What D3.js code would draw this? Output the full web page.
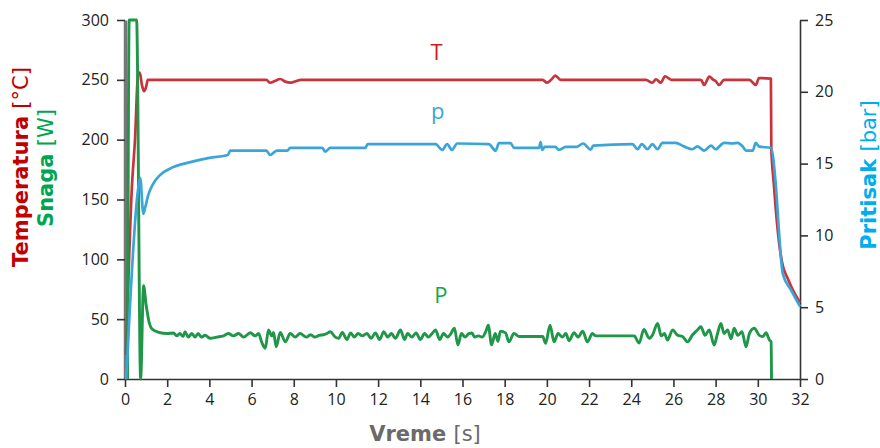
<!DOCTYPE html>
<html>
<head>
<meta charset="utf-8">
<script src="https://cdn.jsdelivr.net/npm/d3@7"></script>
<style>
  html, body { margin: 0; padding: 0; background: #fff; }
  svg { display: block; }
</style>
</head>
<body>
<div id="chart"></div>
<script>
// ---- data ----
// time in s, temperature in °C (left axis)
const temperature = [
  [0.05, 20], [0.32, 158], [0.48, 202], [0.62, 255], [0.7, 256], [0.8, 246], [0.9, 240.5],
  [1.0, 244], [1.08, 250], [6.7, 250], [6.88, 247.6], [7.1, 249], [7.36, 250.7], [7.6, 248.5],
  [7.83, 247.6], [8.0, 248.3], [8.35, 250], [19.8, 250], [20.0, 247.6], [20.2, 250], [20.4, 253.5],
  [20.65, 250], [24.7, 250], [25.0, 247.6], [25.17, 250.5], [25.4, 247.6], [25.6, 253], [25.9, 250],
  [27.3, 250], [27.46, 245.7], [27.7, 252.6], [27.9, 250], [28.0, 249], [28.16, 245.7], [28.4, 250],
  [29.6, 250], [29.9, 245.7], [30.06, 251.5], [30.62, 251], [30.64, 193], [30.75, 165], [30.86, 140],
  [31.02, 112], [31.18, 95], [31.42, 84], [31.7, 73], [32.0, 64]
]

// time in s, pressure in bar (right axis)
const pressure = [
  [0.06, 0], [0.62, 13.2], [0.72, 14.0], [0.87, 11.5], [0.95, 11.9], [1.1, 12.8], [1.3, 13.5],
  [1.66, 14.2], [2.2, 14.7], [3.1, 15.1], [4.0, 15.4], [4.88, 15.6], [4.99, 15.9], [6.7, 15.9],
  [6.88, 15.6], [7.2, 15.9], [7.7, 15.9], [7.83, 16.1], [9.35, 16.1], [9.5, 15.83], [9.73, 16.1],
  [11.4, 16.1], [11.5, 16.36], [14.72, 16.36], [15.04, 15.95], [15.27, 16.36], [15.5, 15.95],
  [15.75, 16.4], [17.25, 16.36], [17.57, 15.9], [17.73, 16.43], [18.28, 16.43], [18.44, 16.09],
  [19.63, 16.09], [19.7, 16.5], [19.78, 15.95], [19.9, 16.16], [20.4, 16.16], [20.57, 15.95],
  [20.9, 16.16], [21.4, 16.16], [21.72, 16.4], [22.08, 15.98], [22.2, 16.25], [24.06, 16.36],
  [24.3, 16.0], [24.5, 16.36], [24.77, 16.0], [25.0, 16.36], [25.25, 16.0], [25.48, 16.45],
  [26.1, 16.45], [26.5, 16.2], [26.9, 16.0], [27.14, 16.2], [27.46, 15.9], [27.78, 16.25],
  [28.0, 16.0], [28.4, 16.45], [28.8, 16.4], [29.04, 16.45], [29.28, 16.2], [29.44, 15.9],
  [29.76, 15.9], [29.9, 16.45], [30.07, 16.18], [30.62, 16.1], [30.86, 13.4], [31.02, 9.9],
  [31.18, 7.36], [31.57, 6.2], [32.0, 5.05]
]

// time in s, power in W (left axis)
const power = [
  [0.12, 0], [0.2, 300], [0.55, 300], [0.74, 0], [0.88, 78], [1.0, 62], [1.15, 47], [1.27, 42],
  [1.6, 39], [2.0, 38], [2.3, 38.5], [2.45, 36], [2.6, 38], [2.75, 35.5], [2.85, 39.5], [3.0, 35],
  [3.17, 38], [3.32, 35], [3.47, 38], [3.62, 35], [3.8, 36.5], [4.04, 34], [4.35, 35], [4.67, 36],
  [4.9, 38], [5.14, 36], [5.38, 38], [5.62, 35], [5.94, 38.6], [6.17, 36], [6.33, 38], [6.49, 30.4],
  [6.65, 25.6], [6.8, 41], [6.96, 36], [7.04, 39], [7.17, 27], [7.36, 39], [7.6, 31], [7.83, 38],
  [8.07, 35], [8.3, 38], [8.6, 35], [8.8, 37], [9.0, 35], [9.2, 36.5], [9.4, 37], [9.58, 38],
  [9.73, 39.5], [9.97, 35], [10.13, 34], [10.3, 39], [10.52, 33], [10.7, 38.5], [10.87, 35],
  [11.05, 38], [11.25, 36], [11.47, 38], [11.67, 34], [11.87, 38.5], [12.07, 33], [12.27, 39.5],
  [12.45, 35], [12.63, 38], [12.82, 34], [13.06, 41], [13.25, 33], [13.4, 38], [13.6, 35],
  [13.8, 38.5], [14.0, 33], [14.2, 38], [14.38, 35], [14.56, 38], [14.72, 41], [14.92, 33],
  [15.1, 38], [15.3, 35], [15.45, 38], [15.62, 42.4], [15.78, 28.4], [15.95, 38], [16.12, 35],
  [16.3, 38], [16.45, 38.5], [16.57, 35], [16.75, 36], [16.93, 35], [17.1, 39.5], [17.22, 45],
  [17.38, 28.5], [17.55, 38], [17.68, 31.5], [17.8, 40], [18.04, 38.5], [18.2, 31], [18.44, 38],
  [18.7, 35.5], [19.8, 35.5], [19.94, 29.8], [20.15, 45], [20.34, 31], [20.53, 38], [20.74, 35],
  [20.9, 38], [21.05, 32], [21.29, 38.7], [21.48, 35], [21.7, 40], [21.92, 31], [22.16, 38],
  [22.32, 36], [24.14, 36], [24.37, 30], [24.6, 41.5], [24.85, 34], [25.0, 36.5], [25.25, 46.5],
  [25.42, 36], [25.57, 38], [25.72, 32.6], [25.96, 41], [26.2, 36.5], [26.43, 35.5], [26.67, 31],
  [26.9, 36.8], [27.14, 41], [27.3, 43.7], [27.5, 36.5], [27.7, 41], [27.93, 28.4], [28.09, 38],
  [28.25, 46.5], [28.4, 38], [28.57, 41], [28.73, 33.5], [28.88, 42.4], [29.05, 36.5], [29.25, 39.5],
  [29.44, 27], [29.6, 38], [29.83, 42.4], [30.07, 36.5], [30.23, 35.5], [30.39, 38.6], [30.55, 32.6],
  [30.63, 31], [30.65, 0]
]

const xTicks = d3.range(0, 33, 2)
const leftTicks = [0, 50, 100, 150, 200, 250, 300]
const rightTicks = [0, 5, 10, 15, 20, 25]

// ---- layout ----
const width = 880
const height = 448
const margin = { top: 20, right: 80, bottom: 69, left: 125 }
const tickFont = '"Open Sans", sans-serif'
const labelFont = '"DejaVu Sans", sans-serif'

const x = d3.scaleLinear().domain([0, 32]).range([margin.left, width - margin.right])
const yLeft = d3.scaleLinear().domain([0, 300]).range([height - margin.bottom, margin.top])
const yRight = d3.scaleLinear().domain([0, 25]).range([height - margin.bottom, margin.top])

const svg = d3.select('#chart').append('svg')
  .attr('width', width)
  .attr('height', height)

function styleAxis(g, lineColor, lineWidth) {
  g.select('.domain').attr('stroke', lineColor).attr('stroke-width', lineWidth)
  g.selectAll('.tick line').attr('stroke', '#333').attr('stroke-width', 1.6)
  g.selectAll('.tick text')
    .attr('fill', '#222').attr('font-size', '16px')
    .attr('font-family', tickFont)
}

// X axis
svg.append('g')
  .attr('transform', `translate(0,${height - margin.bottom})`)
  .call(d3.axisBottom(x).tickValues(xTicks).tickSize(8).tickSizeOuter(0).tickPadding(7))
  .call(g => styleAxis(g, '#333', 1.6))

// Left axis
svg.append('g')
  .attr('transform', `translate(${margin.left},0)`)
  .call(d3.axisLeft(yLeft).tickValues(leftTicks).tickSize(8).tickSizeOuter(0).tickPadding(8))
  .call(g => styleAxis(g, '#777', 3.5))

// Right axis
svg.append('g')
  .attr('transform', `translate(${width - margin.right},0)`)
  .call(d3.axisRight(yRight).tickValues(rightTicks).tickSize(8).tickSizeOuter(0).tickPadding(7))
  .call(g => styleAxis(g, '#333', 1.6))

// ---- series ----
const lineLeft = d3.line().x(d => x(d[0])).y(d => yLeft(d[1])).curve(d3.curveMonotoneX)
const lineRight = d3.line().x(d => x(d[0])).y(d => yRight(d[1])).curve(d3.curveMonotoneX)

svg.append('path').datum(temperature)
  .attr('d', lineLeft)
  .attr('fill', 'none').attr('stroke', '#c8343c').attr('stroke-width', 2.7)
  .attr('stroke-linejoin', 'round')

svg.append('path').datum(power)
  .attr('d', lineLeft)
  .attr('fill', 'none').attr('stroke', '#1f9648').attr('stroke-width', 2.9)
  .attr('stroke-linejoin', 'round')

svg.append('path').datum(pressure)
  .attr('d', lineRight)
  .attr('fill', 'none').attr('stroke', '#3aa6d8').attr('stroke-width', 2.7)
  .attr('stroke-linejoin', 'round')

// ---- series labels ----
const seriesLabels = [
  { text: 'T', t: 14.77, y: yLeft(266.5), color: '#d2191c' },
  { text: 'p', t: 14.82, y: yLeft(217), color: '#3aa6d8' },
  { text: 'P', t: 14.98, y: yLeft(63.5), color: '#10a84a' }
]
svg.append('g').selectAll('text')
  .data(seriesLabels)
  .join('text')
  .attr('x', d => x(d.t)).attr('y', d => d.y)
  .attr('text-anchor', 'middle')
  .attr('fill', d => d.color)
  .attr('font-size', '22px').attr('font-family', tickFont)
  .text(d => d.text)

// ---- axis titles ----
function axisTitle(parts, tx, ty, rotate) {
  const t = svg.append('text')
    .attr('transform', `translate(${tx},${ty})` + (rotate ? ' rotate(-90)' : ''))
    .attr('text-anchor', 'middle')
    .attr('font-size', '21px').attr('font-family', labelFont)
  parts.forEach(p => {
    t.append('tspan')
      .attr('fill', p.color)
      .attr('font-weight', p.bold ? 'bold' : 'normal')
      .text(p.text)
  })
}

axisTitle([
  { text: 'Temperatura ', color: '#c00000', bold: true },
  { text: '[°C]', color: '#c00000' }
], 28, 167, true)

axisTitle([
  { text: 'Snaga ', color: '#00a550', bold: true },
  { text: '[W]', color: '#00a550' }
], 53, 168, true)

axisTitle([
  { text: 'Pritisak ', color: '#00aeef', bold: true },
  { text: '[bar]', color: '#00aeef' }
], 876, 175, true)

axisTitle([
  { text: 'Vreme ', color: '#6a6a6a', bold: true },
  { text: '[s]', color: '#6a6a6a' }
], 425, 441, false)
</script>
</body>
</html>
